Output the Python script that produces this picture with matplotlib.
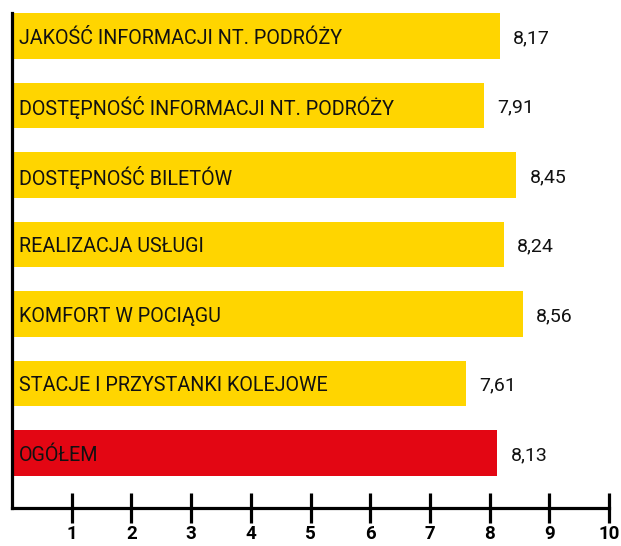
import matplotlib.pyplot as plt

categories = [
    "JAKOŚĆ INFORMACJI NT. PODRÓŻY",
    "DOSTĘPNOŚĆ INFORMACJI NT. PODRÓŻY",
    "DOSTĘPNOŚĆ BILETÓW",
    "REALIZACJA USŁUGI",
    "KOMFORT W POCIĄGU",
    "STACJE I PRZYSTANKI KOLEJOWE",
    "OGÓŁEM",
]
values = [8.17, 7.91, 8.45, 8.24, 8.56, 7.61, 8.13]
value_labels = ["8,17", "7,91", "8,45", "8,24", "8,56", "7,61", "8,13"]
ticks = [1, 2, 3, 4, 5, 6, 7, 8, 9, 10]

YELLOW = "#FFD500"
RED = "#E30613"

plt.rcParams['font.family'] = ['Roboto', 'DejaVu Sans']

W, H = 621, 546
fig = plt.figure(figsize=(W / 100, H / 100), dpi=100)
# axes placed in pixel terms: x=0 at 12px, x=10 at 609px; top 13px, bottom 508px
ax = fig.add_axes([12 / W, (H - 508) / H, 597 / W, 495 / H])

colors = [YELLOW] * (len(values) - 1) + [RED]
pos = list(range(len(values)))
ax.barh(pos, values, height=0.66, color=colors, zorder=1)

for i, (name, v, lab) in enumerate(zip(categories, values, value_labels)):
    ax.text(0.12, i + 0.03, name, va='center', ha='left', fontsize=14.2, color='#111111')
    ax.text(v + 0.22, i + 0.03, lab, va='center', ha='left', fontsize=14, color='#111111')

ax.set_xlim(0, 10)
ax.set_ylim(6.79, -0.33)

for s in ['top', 'right']:
    ax.spines[s].set_visible(False)
for s in ['left', 'bottom']:
    ax.spines[s].set_linewidth(2.3)
    ax.spines[s].set_zorder(3)

ax.set_yticks([])
ax.set_xticks(ticks)
ax.set_xticklabels([str(t) for t in ticks], fontsize=13.5, fontweight='bold')
ax.tick_params(axis='x', direction='inout', length=22, width=2.3, pad=1)

fig.savefig("out.png", dpi=100)
